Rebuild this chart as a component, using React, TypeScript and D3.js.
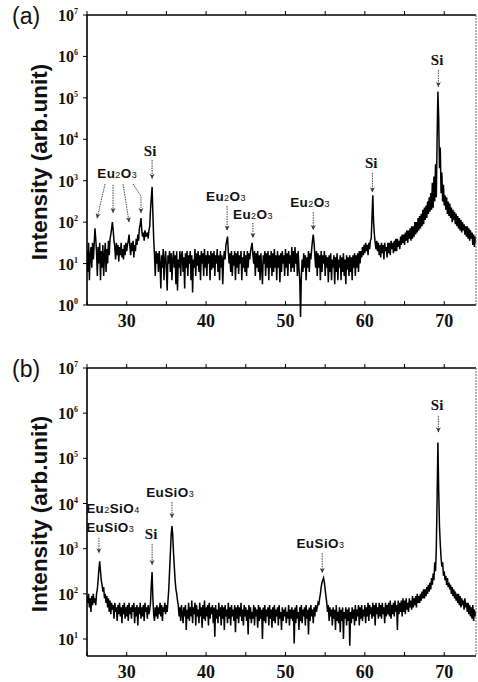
import React from 'react';
import * as d3 from 'd3';

// 2θ grid of the scans (degrees)
const THETA_START = 25;
const THETA_STEP = 0.1;

// (a) log10 intensity, one value every 0.1° from 25.0° to 74.0°
const TOP_LOG_I = [
  1.3, 0.8, 1.5, 0.6, 1.2, 1.4, 0.9, 1.5, 1.1, 1.45, // 25
  1.85, 1.6, 1.3, 0.7, 1.4, 1.0, 1.5, 0.6, 1.3, 0.9, // 26
  1.45, 0.7, 1.2, 1.5, 0.8, 1.35, 1.0, 1.55, 1.2, 1.6, // 27
  1.7, 1.85, 2.0, 1.8, 1.55, 1.4, 1.1, 1.5, 1.2, 1.45, // 28
  1.05, 1.4, 1.2, 1.5, 1.15, 1.35, 1.1, 1.45, 1.2, 1.5, // 29
  1.3, 1.45, 1.55, 1.7, 1.4, 1.2, 1.5, 1.3, 1.55, 1.15, // 30
  1.45, 1.3, 1.6, 1.45, 1.7, 1.55, 1.85, 1.95, 2.1, 1.8, // 31
  1.65, 1.75, 1.55, 1.8, 1.65, 1.7, 1.75, 1.6, 1.8, 1.9, // 32
  2.3, 2.6, 2.85, 2.2, 1.6, 1.2, 0.7, 1.3, 1.0, 1.25, // 33
  0.8, 1.3, 1.0, 0.4, 1.2, 0.9, 1.35, 0.6, 1.1, 1.3, // 34
  0.9, 0.35, 1.2, 1.0, 1.3, 0.8, 1.25, 0.6, 1.1, 1.3, // 35
  0.9, 1.2, 0.5, 1.3, 0.35, 1.1, 0.9, 1.3, 0.7, 1.2, // 36
  1.3, 0.8, 1.15, 0.4, 1.25, 0.9, 1.3, 0.7, 1.2, 1.0, // 37
  1.3, 0.6, 1.2, 0.3, 1.1, 0.9, 1.35, 0.7, 1.25, 0.95, // 38
  1.3, 0.8, 1.2, 0.6, 1.3, 1.0, 1.25, 0.7, 1.35, 0.9, // 39
  1.2, 0.7, 1.3, 1.0, 1.2, 0.6, 1.3, 0.85, 1.25, 0.9, // 40
  1.3, 0.7, 1.2, 1.0, 1.35, 0.8, 1.2, 0.6, 1.3, 0.9, // 41
  1.2, 0.5, 1.1, 1.3, 1.1, 1.45, 1.55, 1.65, 1.3, 1.0, // 42
  1.25, 0.8, 1.3, 0.7, 1.2, 0.95, 1.3, 0.6, 1.25, 0.9, // 43
  1.3, 0.75, 1.2, 1.0, 1.3, 0.6, 1.15, 0.9, 1.3, 0.8, // 44
  1.2, 0.7, 1.3, 0.9, 1.25, 1.1, 1.3, 1.4, 1.5, 1.2, // 45
  1.0, 1.3, 0.7, 1.25, 0.9, 1.3, 0.8, 1.2, 0.6, 1.25, // 46
  0.9, 0.5, 1.2, 1.0, 1.3, 0.7, 1.25, 0.9, 1.3, 0.6, // 47
  1.2, 0.9, 1.3, 0.7, 1.25, 0.8, 1.35, 0.9, 1.2, 0.6, // 48
  1.3, 0.9, 1.2, 0.55, 1.25, 0.8, 1.3, 1.0, 1.2, 0.7, // 49
  1.35, 0.9, 1.25, 0.7, 1.3, 1.0, 1.2, 0.8, 1.4, 0.9, // 50
  1.3, 0.8, 1.4, 1.0, 1.25, 0.7, 1.3, 0.9, 0.6, -0.3, // 51
  0.7, 1.1, 0.8, 1.25, 0.9, 1.2, 0.6, 1.15, 0.9, 1.3, // 52
  0.8, 1.25, 1.1, 1.35, 1.55, 1.7, 1.5, 1.2, 0.9, 1.3, // 53
  0.7, 1.25, 0.9, 1.2, 0.6, 1.3, 0.8, 1.2, 1.0, 1.3, // 54
  0.7, 1.2, 0.9, 1.15, 0.55, 1.2, 0.8, 1.25, 0.6, 1.1, // 55
  0.9, 1.2, 0.5, 1.15, 0.8, 1.25, 0.6, 1.1, 0.9, 1.2, // 56
  0.6, 1.15, 0.8, 1.25, 0.7, 1.1, 0.5, 1.2, 0.85, 1.15, // 57
  0.7, 1.2, 0.8, 1.15, 0.6, 1.2, 0.9, 1.25, 0.7, 1.2, // 58
  0.9, 1.25, 0.8, 1.3, 1.0, 1.3, 1.15, 1.4, 1.2, 1.45, // 59
  1.25, 1.5, 1.3, 1.45, 1.2, 1.5, 1.35, 1.55, 1.6, 2.1, // 60
  2.65, 2.0, 1.7, 1.5, 1.35, 1.55, 1.3, 1.5, 1.2, 1.45, // 61
  1.15, 1.5, 1.25, 1.45, 1.1, 1.5, 1.3, 1.4, 1.15, 1.5, // 62
  1.25, 1.5, 1.2, 1.55, 1.35, 1.5, 1.25, 1.55, 1.3, 1.6, // 63
  1.3, 1.6, 1.4, 1.55, 1.35, 1.65, 1.45, 1.7, 1.5, 1.7, // 64
  1.45, 1.75, 1.55, 1.8, 1.5, 1.8, 1.6, 1.85, 1.55, 1.9, // 65
  1.6, 1.9, 1.65, 2.0, 1.7, 2.0, 1.75, 2.1, 1.8, 2.15, // 66
  1.85, 2.2, 1.9, 2.3, 1.95, 2.35, 2.05, 2.4, 2.1, 2.5, // 67
  2.2, 2.6, 2.25, 2.7, 2.3, 2.95, 2.35, 3.1, 2.5, 3.4, // 68
  2.6, 4.0, 5.15, 4.5, 3.3, 3.8, 2.7, 3.2, 2.5, 2.9, // 69
  2.4, 2.65, 2.3, 2.6, 2.2, 2.5, 2.15, 2.45, 2.1, 2.35, // 70
  2.0, 2.3, 2.05, 2.25, 1.95, 2.2, 1.9, 2.15, 1.85, 2.1, // 71
  1.8, 2.05, 1.75, 2.0, 1.8, 1.95, 1.7, 1.9, 1.65, 1.9, // 72
  1.6, 1.85, 1.55, 1.8, 1.6, 1.75, 1.45, 1.7, 1.4, 1.65, // 73
  1.5, // 74
];

// (b) log10 intensity, same grid
const BOTTOM_LOG_I = [
  1.95, 1.8, 2.0, 1.7, 1.9, 1.6, 1.95, 1.75, 2.0, 1.8, // 25
  1.9, 1.75, 2.0, 2.1, 2.3, 2.55, 2.72, 2.5, 2.3, 2.2, // 26
  2.05, 2.15, 1.9, 2.0, 1.8, 1.95, 1.7, 1.9, 1.6, 1.85, // 27
  1.55, 1.8, 1.65, 1.75, 1.45, 1.8, 1.6, 1.7, 1.4, 1.75, // 28
  1.55, 1.8, 1.5, 1.7, 1.35, 1.75, 1.55, 1.8, 1.45, 1.7, // 29
  1.5, 1.75, 1.4, 1.8, 1.55, 1.7, 1.45, 1.75, 1.6, 1.8, // 30
  1.35, 1.7, 1.5, 1.75, 1.3, 1.7, 1.55, 1.8, 1.45, 1.7, // 31
  1.5, 1.75, 1.4, 1.8, 1.6, 1.7, 1.45, 1.75, 1.55, 1.65, // 32
  1.8, 2.2, 2.48, 1.9, 1.55, 1.4, 1.7, 1.5, 1.75, 1.45, // 33
  1.7, 1.55, 1.8, 1.5, 1.75, 1.4, 1.7, 1.6, 1.8, 1.55, // 34
  1.75, 1.6, 1.85, 2.1, 2.5, 2.9, 3.3, 3.5, 3.3, 2.9, // 35
  2.6, 2.3, 2.1, 2.0, 1.85, 1.75, 1.5, 1.7, 1.4, 1.75, // 36
  1.55, 1.35, 1.7, 1.5, 1.75, 1.2, 1.65, 1.45, 1.8, 1.4, // 37
  1.7, 1.5, 1.85, 1.35, 1.7, 1.55, 1.8, 1.3, 1.75, 1.5, // 38
  1.65, 1.35, 1.8, 1.5, 1.7, 1.25, 1.75, 1.45, 1.85, 1.4, // 39
  1.7, 1.5, 1.75, 1.3, 1.8, 1.45, 1.7, 1.55, 1.75, 1.35, // 40
  1.7, 1.05, 1.75, 1.45, 1.65, 1.35, 1.8, 1.5, 1.7, 1.3, // 41
  1.75, 1.45, 1.7, 1.2, 1.75, 1.5, 1.65, 1.35, 1.8, 1.45, // 42
  1.7, 1.3, 1.75, 1.5, 1.65, 1.4, 1.75, 1.15, 1.7, 1.45, // 43
  1.75, 1.35, 1.7, 1.5, 1.8, 1.4, 1.65, 1.3, 1.75, 1.5, // 44
  1.7, 1.4, 1.65, 1.1, 1.75, 1.45, 1.7, 1.35, 1.6, 1.45, // 45
  1.75, 1.3, 1.7, 1.5, 1.65, 1.25, 1.75, 1.4, 1.7, 1.45, // 46
  1.65, 1.0, 1.7, 1.4, 1.75, 1.35, 1.65, 1.5, 1.7, 1.3, // 47
  1.75, 1.45, 1.65, 1.25, 1.7, 1.4, 1.75, 1.35, 1.65, 1.5, // 48
  1.7, 1.3, 1.75, 1.45, 1.6, 1.2, 1.7, 1.4, 1.65, 1.5, // 49
  1.7, 1.35, 1.6, 1.45, 1.75, 1.3, 1.65, 1.45, 1.7, 1.4, // 50
  1.65, 0.9, 1.7, 1.35, 1.75, 1.45, 1.6, 1.2, 1.7, 1.4, // 51
  1.75, 1.35, 1.65, 1.5, 1.7, 1.3, 1.75, 1.45, 1.65, 1.1, // 52
  1.7, 1.4, 1.75, 1.5, 1.65, 1.35, 1.7, 1.5, 1.75, 1.6, // 53
  1.7, 1.8, 1.75, 1.9, 2.0, 2.15, 2.25, 2.3, 2.35, 2.25, // 54
  2.1, 1.95, 1.8, 1.6, 1.75, 1.4, 1.7, 1.5, 1.65, 1.3, // 55
  1.7, 1.45, 1.65, 1.2, 1.75, 1.4, 1.6, 1.35, 1.7, 1.15, // 56
  1.65, 1.4, 1.7, 1.0, 1.6, 1.45, 1.7, 1.3, 1.65, 1.4, // 57
  1.7, 0.85, 1.6, 1.35, 1.7, 1.45, 1.65, 1.3, 1.75, 1.4, // 58
  1.65, 1.5, 1.75, 1.3, 1.7, 1.45, 1.75, 1.4, 1.65, 1.5, // 59
  1.75, 1.35, 1.7, 1.5, 1.8, 1.4, 1.75, 1.55, 1.7, 1.45, // 60
  1.8, 1.5, 1.75, 1.3, 1.8, 1.55, 1.7, 1.45, 1.8, 1.5, // 61
  1.75, 1.45, 1.8, 1.55, 1.7, 1.35, 1.8, 1.5, 1.75, 1.55, // 62
  1.8, 1.5, 1.85, 1.45, 1.75, 1.55, 1.8, 1.5, 1.85, 1.6, // 63
  1.75, 1.2, 1.85, 1.55, 1.8, 1.6, 1.85, 1.5, 1.9, 1.6, // 64
  1.85, 1.55, 1.9, 1.65, 1.8, 1.6, 1.9, 1.7, 1.85, 1.65, // 65
  1.95, 1.7, 1.9, 1.75, 1.95, 1.7, 2.0, 1.8, 1.95, 1.8, // 66
  2.0, 1.85, 2.05, 1.9, 2.1, 1.9, 2.1, 1.95, 2.15, 2.0, // 67
  2.2, 2.05, 2.25, 2.1, 2.35, 2.2, 2.45, 2.3, 2.7, 2.5, // 68
  3.0, 4.1, 5.35, 4.3, 3.5, 3.1, 2.8, 2.6, 2.7, 2.4, // 69
  2.5, 2.3, 2.4, 2.2, 2.35, 2.15, 2.25, 2.1, 2.2, 2.0, // 70
  2.15, 1.95, 2.1, 1.9, 2.05, 1.85, 2.0, 1.8, 2.0, 1.75, // 71
  1.95, 1.7, 1.9, 1.75, 1.85, 1.65, 1.9, 1.7, 1.8, 1.6, // 72
  1.8, 1.55, 1.75, 1.5, 1.7, 1.45, 1.75, 1.4, 1.65, 1.5, // 73
  1.6, // 74
];

const X_DOMAIN = [25, 74];
const X_TICKS = [25, 30, 35, 40, 45, 50, 55, 60, 65, 70];
const X_TICK_LABELS = [30, 40, 50, 60, 70];
const TOP_Y_EXP = [0, 1, 2, 3, 4, 5, 6, 7];
const BOTTOM_Y_EXP = [1, 2, 3, 4, 5, 6, 7];
const TOP_Y_MIN_EXP = 0;
const BOTTOM_Y_MIN_EXP = 0.624;

// annotations: label position and arrow paths in (2θ, log10 I)
type Ann = { label: string; lx: number; ly: number; anchor?: string; serif?: boolean; paths: number[][][] };
const TOP_ANN: Ann[] = [
  { label: 'Eu2O3', lx: 28.8, ly: 3.07, paths: [
    [[27.27, 2.92], [26.26, 2.09]],
    [[28.28, 2.9], [28.28, 2.22]],
    [[29.54, 2.92], [30.3, 2.0]],
    [[30.8, 2.92], [31.8, 2.63], [31.8, 2.22]],
  ] },
  { label: 'Si', serif: true, lx: 32.95, ly: 3.6, paths: [[[33.2, 3.5], [33.2, 3.05]]] },
  { label: 'Eu2O3', lx: 42.5, ly: 2.51, paths: [[[42.65, 2.39], [42.65, 1.8]]] },
  { label: 'Eu2O3', lx: 45.9, ly: 2.08, paths: [[[45.9, 1.98], [45.9, 1.62]]] },
  { label: 'Eu2O3', lx: 53.1, ly: 2.37, paths: [[[53.5, 2.24], [53.5, 1.81]]] },
  { label: 'Si', serif: true, lx: 60.8, ly: 3.3, paths: [[[60.95, 3.19], [60.95, 2.72]]] },
  { label: 'Si', serif: true, lx: 69.1, ly: 5.79, paths: [[[69.26, 5.67], [69.26, 5.26]]] },
];
const BOTTOM_ANN: Ann[] = [
  { label: 'Eu2SiO4', lx: 24.9, ly: 3.79, anchor: 'start', paths: [] },
  { label: 'EuSiO3', lx: 24.9, ly: 3.37, anchor: 'start', paths: [[[26.5, 3.24], [26.5, 2.9]]] },
  { label: 'Si', serif: true, lx: 33.07, ly: 3.21, paths: [[[33.2, 3.1], [33.2, 2.64]]] },
  { label: 'EuSiO3', lx: 35.47, ly: 4.14, paths: [[[35.7, 4.03], [35.7, 3.68]]] },
  { label: 'EuSiO3', lx: 54.4, ly: 3.02, paths: [[[54.63, 2.9], [54.63, 2.46]]] },
  { label: 'Si', serif: true, lx: 69.1, ly: 6.07, paths: [[[69.26, 5.94], [69.26, 5.58]]] },
];

const SANS = '"Liberation Sans", Arial, sans-serif';
const SERIF = '"Liberation Serif", "Times New Roman", serif';

function Label({ a, x, y }: { a: Ann; x: any; y: any }) {
  const parts = a.label.split(/(\d)/).filter((s) => s.length);
  return (
    <text
      x={x(a.lx)}
      y={y(Math.pow(10, a.ly))}
      textAnchor={a.anchor || 'middle'}
      fontFamily={a.serif ? SERIF : SANS}
      fontWeight="bold"
      fontSize={a.serif ? 15 : 13.5}
      letterSpacing={a.serif ? 0 : 0.4}
      fill="#111"
    >
      {parts.map((p, i) =>
        /\d/.test(p) ? (
          <tspan key={i} fontSize={9} fontWeight="normal">{p}</tspan>
        ) : (
          <tspan key={i}>{p}</tspan>
        )
      )}
    </text>
  );
}

function Panel({ id, values, top, bottom, minExp, exps, letter, anns }: any) {
  const left = 87;
  const right = 476;
  const x = d3.scaleLinear().domain(X_DOMAIN).range([left, right]);
  const y = d3.scaleLog().domain([Math.pow(10, minExp), 1e7]).range([bottom, top]);
  const pts: [number, number][] = values.map((v: number, i: number) => [THETA_START + i * THETA_STEP, v]);
  const line = d3
    .line<[number, number]>()
    .x((d) => x(d[0]))
    .y((d) => y(Math.pow(10, d[1])));
  const arrowLine = d3
    .line<number[]>()
    .x((d) => x(d[0]))
    .y((d) => y(Math.pow(10, d[1])));
  const titleY = (top + bottom) / 2 + 2;
  return (
    <g>
      <defs>
        <clipPath id={`clip-${id}`}>
          <rect x={left} y={top} width={right - left} height={bottom - top + 12} />
        </clipPath>
      </defs>
      <text x={12} y={top + 9} fontFamily={SANS} fontSize={23} fill="#111">{letter}</text>
      <text
        transform={`translate(47,${titleY}) rotate(-90)`}
        textAnchor="middle"
        fontFamily={SANS}
        fontWeight="bold"
        fontSize={22.5}
        fill="#111"
      >
        Intensity (arb.unit)
      </text>
      <g clipPath={`url(#clip-${id})`}>
        <path d={line(pts) || ''} fill="none" stroke="#000" strokeWidth={1.5} strokeLinejoin="miter" />
      </g>
      {/* frame */}
      <line x1={left} x2={right} y1={top} y2={top} stroke="#000" strokeWidth={1.6} />
      <line x1={left} x2={right} y1={bottom} y2={bottom} stroke="#000" strokeWidth={1.6} />
      <line x1={left} x2={left} y1={top} y2={bottom} stroke="#000" strokeWidth={1.6} />
      <line x1={right} x2={right} y1={top} y2={bottom} stroke="#666" strokeWidth={1} strokeDasharray="2,1" />
      {/* x ticks */}
      {X_TICKS.map((t) => (
        <g key={t}>
          <line x1={x(t)} x2={x(t)} y1={top} y2={top - 4} stroke="#000" strokeWidth={1} />
          <line x1={x(t)} x2={x(t)} y1={bottom} y2={bottom - 4} stroke="#000" strokeWidth={1} />
        </g>
      ))}
      {X_TICK_LABELS.map((t) => (
        <text key={t} x={x(t)} y={bottom + 22} textAnchor="middle" fontFamily={SERIF} fontWeight="bold" fontSize={18} fill="#111">
          {t}
        </text>
      ))}
      {/* y ticks */}
      {exps.map((e: number) => (
        <g key={e}>
          <line x1={left} x2={left - 4} y1={y(Math.pow(10, e))} y2={y(Math.pow(10, e))} stroke="#000" strokeWidth={1} />
          <text x={78} y={y(Math.pow(10, e)) + 6} textAnchor="end" fontFamily={SERIF} fontWeight="bold" fontSize={16} fill="#111">
            10<tspan fontSize={8} dy={-7}>{e}</tspan>
          </text>
        </g>
      ))}
      {/* annotations */}
      {anns.map((a: Ann, i: number) => (
        <g key={i}>
          <Label a={a} x={x} y={y} />
          {a.paths.map((p, j) => {
            const n = p.length;
            const x1 = x(p[n - 2][0]);
            const y1 = y(Math.pow(10, p[n - 2][1]));
            const x2 = x(p[n - 1][0]);
            const y2 = y(Math.pow(10, p[n - 1][1]));
            const ang = (Math.atan2(y2 - y1, x2 - x1) * 180) / Math.PI;
            return (
              <g key={j}>
                <path d={arrowLine(p) || ''} fill="none" stroke="#444" strokeWidth={1} strokeDasharray="1.5,1" />
                <path
                  d="M0,0 L-5,-2.5 L-3.5,0 L-5,2.5 Z"
                  transform={`translate(${x2},${y2}) rotate(${ang})`}
                  fill="#333"
                />
              </g>
            );
          })}
        </g>
      ))}
    </g>
  );
}

export default function App() {
  return (
    <svg
      width={478}
      height={682}
      viewBox="0 0 478 682"
      style={{ position: 'absolute', left: 0, top: 0, background: '#fff' }}
    >
      <rect x={0} y={0} width={478} height={682} fill="#fff" />
      <Panel id="a" values={TOP_LOG_I} top={15} bottom={305} minExp={TOP_Y_MIN_EXP} exps={TOP_Y_EXP} anns={TOP_ANN} letter="(a)" />
      <Panel id="b" values={BOTTOM_LOG_I} top={368} bottom={656} minExp={BOTTOM_Y_MIN_EXP} exps={BOTTOM_Y_EXP} anns={BOTTOM_ANN} letter="(b)" />
    </svg>
  );
}
